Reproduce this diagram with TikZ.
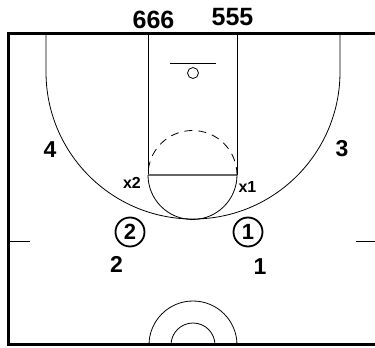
\documentclass[tikz,border=0pt]{standalone}
\usepackage{fontspec}
\setmainfont{Liberation Sans}
\begin{document}
\begin{tikzpicture}[x=1pt,y=1pt,
  court/.style={line width=0.8pt,black},
  border/.style={line width=3pt,black},
  lbl/.style={font=\fontsize{23}{23}\selectfont\bfseries,inner sep=0pt},
  small/.style={font=\fontsize{16}{16}\selectfont\bfseries,inner sep=0pt},
  big/.style={font=\fontsize{25}{25}\selectfont\bfseries,inner sep=0pt},
  player/.style={circle,draw,line width=1.8pt,minimum size=29pt,inner sep=0pt,font=\fontsize{22}{22}\selectfont\bfseries}]
\useasboundingbox (0,0) rectangle (375,348);
% border
\draw[border] (375,314.5) -- (8,314.5) -- (8,3) -- (375,3);
% three point line
\draw[court] (46,314.5) -- (46,276) arc[start angle=180,end angle=360,radius=147] -- (340,314.5);
% lane
\draw[court] (148,314.5) -- (148,173);
\draw[court] (237,314.5) -- (237,173);
\draw[line width=1.5pt,gray!80!black] (148,173) -- (237,173);
% free throw circle
\draw[court] (148,173) arc[start angle=180,end angle=360,radius=44.5];
\draw[court,dashed,dash pattern=on 8pt off 6pt] (237,173) arc[start angle=0,end angle=180,radius=44.5];
% basket
\draw[court] (170,285) -- (216,285);
\draw[court] (193,275) circle[radius=5.5];
% center circles
\draw[court] (149,3) arc[start angle=180,end angle=0,radius=44];
\draw[court] (171,3) arc[start angle=180,end angle=0,radius=22];
% hash marks
\draw[court] (8,106.5) -- (30,106.5);
\draw[court] (356,106.5) -- (375,106.5);
% players
\node[player] (p2) at (130,116) {2};
\node[player] (p1) at (248,116) {1};
% labels
\node[lbl] (l2) at (116.5,84) {2};
\node[lbl] (l1) at (260,81) {1};
\node[lbl] (l4) at (50,198) {4};
\node[lbl] (l3) at (342,199) {3};
\node[small] (x2) at (132,165) {x2};
\node[small] (x1) at (247.5,161) {x1};
\node[big] (t6) at (153.5,328) {666};
\node[big] (t5) at (232.5,330.5) {555};
\end{tikzpicture}
\end{document}
